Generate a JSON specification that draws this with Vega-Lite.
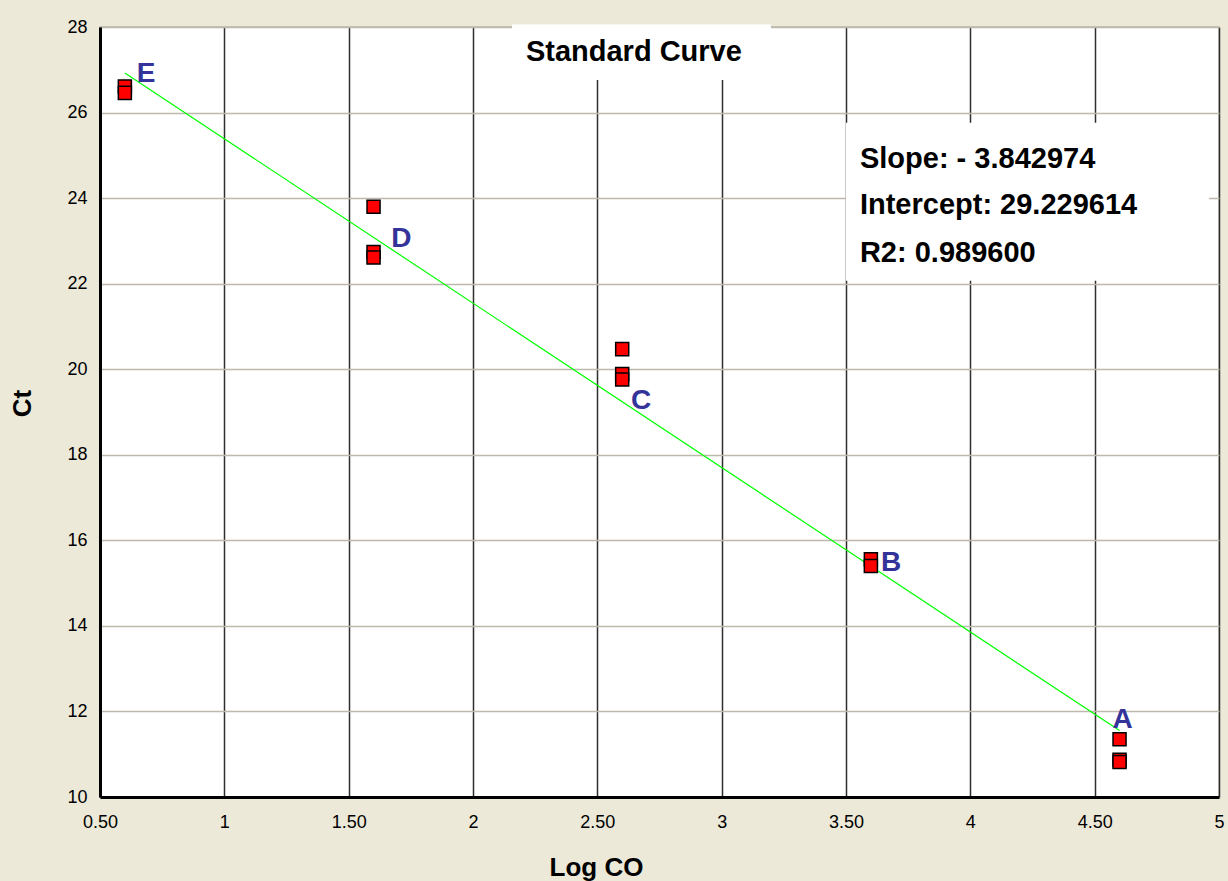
{
  "$schema": "https://vega.github.io/schema/vega-lite/v6.json",
  "width": 1119,
  "height": 770,
  "autosize": {"type": "none"},
  "padding": {"left": 100, "top": 27, "right": 9, "bottom": 84},
  "background": "#ECE9D8",
  "config": {
    "view": {"fill": "#ffffff", "stroke": "#b9b5a9", "strokeWidth": 1.5},
    "axis": {
      "labelFont": "Liberation Sans",
      "labelFontSize": 18,
      "labelColor": "#000000",
      "labelFlush": false,
      "labelOverlap": false,
      "titleFont": "Liberation Sans",
      "titleFontWeight": "bold",
      "titleFontSize": 26,
      "titleColor": "#000000",
      "ticks": false,
      "tickSize": 0,
      "domainColor": "#000000",
      "domainWidth": 3
    }
  },
  "datasets": {
    "points": [
      {"logco": 0.6, "ct": 26.61},
      {"logco": 0.6, "ct": 26.46},
      {"logco": 1.6, "ct": 23.80},
      {"logco": 1.6, "ct": 22.74},
      {"logco": 1.6, "ct": 22.61},
      {"logco": 2.6, "ct": 20.47},
      {"logco": 2.6, "ct": 19.89},
      {"logco": 2.6, "ct": 19.76},
      {"logco": 3.6, "ct": 15.56},
      {"logco": 3.6, "ct": 15.40},
      {"logco": 4.6, "ct": 11.35},
      {"logco": 4.6, "ct": 10.87},
      {"logco": 4.6, "ct": 10.82}
    ],
    "fit": [
      {"logco": 0.6, "ct": 26.924},
      {"logco": 4.6, "ct": 11.552}
    ],
    "labels": [
      {"logco": 0.685, "ct": 26.91, "label": "E"},
      {"logco": 1.712, "ct": 23.05, "label": "D"},
      {"logco": 2.676, "ct": 19.26, "label": "C"},
      {"logco": 3.681, "ct": 15.47, "label": "B"},
      {"logco": 4.612, "ct": 11.81, "label": "A"}
    ],
    "boxes": [
      {"x1": 2.157, "x2": 3.198, "y1": 28.06, "y2": 26.76},
      {"x1": 3.5, "x2": 4.96, "y1": 25.76, "y2": 22.07}
    ],
    "title": [
      {"logco": 2.647, "ct": 27.42, "text": "Standard Curve"}
    ],
    "stats": [
      {"logco": 3.556, "ct": 24.91, "text": "Slope: - 3.842974"},
      {"logco": 3.556, "ct": 23.85, "text": "Intercept: 29.229614"},
      {"logco": 3.556, "ct": 22.72, "text": "R2: 0.989600"}
    ]
  },
  "encoding": {
    "x": {
      "field": "logco",
      "type": "quantitative",
      "scale": {"domain": [0.5, 5], "nice": false, "zero": false},
      "axis": {
        "title": "Log CO",
        "values": [0.5, 1, 1.5, 2, 2.5, 3, 3.5, 4, 4.5, 5],
        "labelExpr": "datum.value % 1 == 0 ? format(datum.value, 'd') : format(datum.value, '.2f')",
        "labelPadding": 16,
        "labelBaseline": "top",
        "grid": true,
        "gridColor": "#2e2e2e",
        "gridWidth": 1.5,
        "gridOpacity": 1,
        "titleX": 496,
        "titleY": 70,
        "titleBaseline": "middle",
        "titleAlign": "center"
      }
    },
    "y": {
      "field": "ct",
      "type": "quantitative",
      "scale": {"domain": [10, 28], "nice": false, "zero": false},
      "axis": {
        "title": "Ct",
        "values": [10, 12, 14, 16, 18, 20, 22, 24, 26, 28],
        "labelPadding": 13,
        "labelBaseline": "middle",
        "grid": true,
        "gridColor": "#bdb9ad",
        "gridWidth": 1.5,
        "gridOpacity": 1,
        "titleX": -78,
        "titleY": 376,
        "titleBaseline": "middle",
        "titleAlign": "center",
        "titleAngle": -90
      }
    }
  },
  "layer": [
    {
      "data": {"name": "boxes"},
      "mark": {"type": "rect", "fill": "#ffffff", "clip": false},
      "encoding": {
        "x": {"field": "x1", "type": "quantitative"},
        "x2": {"field": "x2"},
        "y": {"field": "y1", "type": "quantitative"},
        "y2": {"field": "y2"}
      }
    },
    {
      "data": {"name": "fit"},
      "mark": {"type": "line", "color": "#00ff00", "strokeWidth": 1.2},
      "encoding": {}
    },
    {
      "data": {"name": "points"},
      "mark": {"type": "point", "shape": "square", "filled": true, "fill": "#ff0000", "stroke": "#000000", "strokeWidth": 1.5, "size": 170, "opacity": 1},
      "encoding": {}
    },
    {
      "data": {"name": "labels"},
      "mark": {"type": "text", "font": "Liberation Sans", "fontWeight": "bold", "fontSize": 28, "color": "#333399", "align": "center", "baseline": "middle"},
      "encoding": {"text": {"field": "label"}}
    },
    {
      "data": {"name": "title"},
      "mark": {"type": "text", "font": "Liberation Sans", "fontWeight": "bold", "fontSize": 29, "color": "#000000", "align": "center", "baseline": "middle"},
      "encoding": {"text": {"field": "text"}}
    },
    {
      "data": {"name": "stats"},
      "mark": {"type": "text", "font": "Liberation Sans", "fontWeight": "bold", "fontSize": 29, "color": "#000000", "align": "left", "baseline": "middle"},
      "encoding": {"text": {"field": "text"}}
    }
  ]
}
